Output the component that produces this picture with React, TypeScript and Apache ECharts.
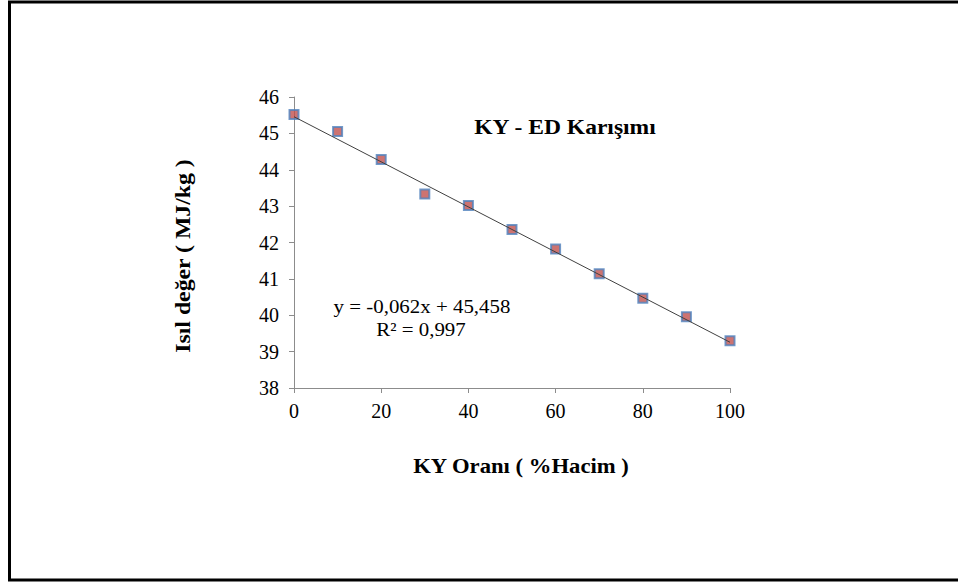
import React, { useEffect, useRef } from "react";
import * as echarts from "echarts";

const kyRatio = [0, 10, 20, 30, 40, 50, 60, 70, 80, 90, 100];
const heatValue = [45.52, 45.05, 44.28, 43.33, 43.02, 42.36, 41.82, 41.14, 40.47, 39.96, 39.3];
const trendSlope = -0.062;
const trendIntercept = 45.458;
const trendX = [0, 100];
const titleText = "KY - ED Karışımı";
const xAxisTitle = "KY Oranı ( %Hacim )";
const yAxisTitle = "Isıl değer ( MJ/kg )";
const equationText = "y = -0,062x + 45,458";
const r2Text = "R² = 0,997";

const FONT = "Liberation Serif";

export default function App() {
  const ref = useRef<HTMLDivElement>(null);
  useEffect(() => {
    if (!ref.current) return;
    const chart = echarts.init(ref.current, null, { renderer: "svg" });
    const txt = (text: string, size: number, bold: boolean, lineHeight?: number) => ({
      text,
      fontFamily: FONT,
      fontSize: size,
      fontWeight: bold ? "bold" : "normal",
      lineHeight: lineHeight ?? size + 2,
      fill: "#000",
      align: "center",
      verticalAlign: "middle",
    });
    chart.setOption({
      animation: false,
      backgroundColor: "#fff",
      grid: { left: 294, right: 228, top: 97, bottom: 195 },
      xAxis: {
        type: "value",
        min: 0,
        max: 100,
        interval: 20,
        axisLine: { show: true, lineStyle: { color: "#8c8c8c", width: 1 } },
        axisTick: { show: true, length: 5, lineStyle: { color: "#8c8c8c" } },
        splitLine: { show: false },
        axisLabel: { color: "#000", fontFamily: FONT, fontSize: 20, margin: 13 },
      },
      yAxis: {
        type: "value",
        min: 38,
        max: 46,
        interval: 1,
        axisLine: { show: true, lineStyle: { color: "#8c8c8c", width: 1 } },
        axisTick: { show: true, length: 5, lineStyle: { color: "#8c8c8c" } },
        splitLine: { show: false },
        axisLabel: { color: "#000", fontFamily: FONT, fontSize: 20, margin: 15 },
      },
      series: [
        {
          type: "scatter",
          symbol: "rect",
          symbolSize: 9,
          data: kyRatio.map((x, i) => [x, heatValue[i]]),
          itemStyle: { color: "#C0504D", borderColor: "#4F81BD", borderWidth: 2 },
          z: 2,
        },
        {
          type: "line",
          data: trendX.map((x) => [x, trendIntercept + trendSlope * x]),
          symbol: "none",
          lineStyle: { color: "#404040", width: 1 },
          z: 3,
        },
      ],
      graphic: [
        {
          type: "rect",
          shape: { x: 9.5, y: 2, width: 980, height: 578 },
          style: { fill: "none", stroke: "#000", lineWidth: 3 },
        },
        { type: "text", x: 565, y: 127, scaleX: 1.07, style: txt(titleText, 22, true) },
        { type: "text", x: 422, y: 306, scaleX: 1.1, style: txt(equationText, 19, false, 19) },
        { type: "text", x: 421, y: 329, scaleX: 1.1, style: txt(r2Text, 19, false, 19) },
        { type: "text", x: 521, y: 466, scaleX: 1.03, style: txt(xAxisTitle, 22, true) },
        {
          type: "text",
          x: 183,
          y: 256,
          rotation: Math.PI / 2,
          scaleX: 1.08,
          style: txt(yAxisTitle, 22, true),
        },
      ],
    });
    return () => chart.dispose();
  }, []);
  return (
    <div
      ref={ref}
      style={{ position: "fixed", left: 0, top: 0, width: 958, height: 583 }}
    />
  );
}
